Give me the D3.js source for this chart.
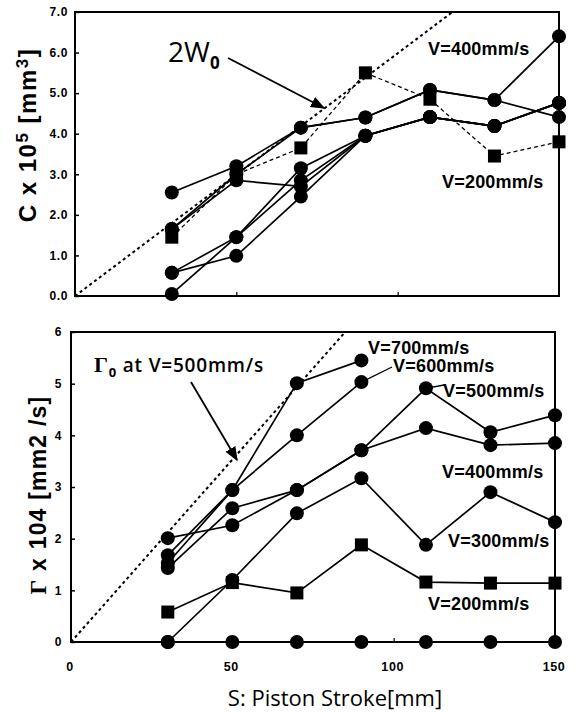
<!DOCTYPE html>
<html>
<head>
<meta charset="utf-8">
<script src="https://cdn.jsdelivr.net/npm/d3@7/dist/d3.min.js"></script>
<style>
  html, body { margin: 0; padding: 0; background: #fff; }
  svg { display: block; }
  .tick-lbl { font-family: "Liberation Sans", Arial, sans-serif; font-weight: bold; font-size: 12px; letter-spacing: 0.6px; }
  .vlbl { font-family: "Liberation Sans", Arial, sans-serif; font-weight: bold; font-size: 18px; letter-spacing: 0.2px; }
</style>
</head>
<body>
<svg id="chart" width="580" height="712"></svg>
<script>
// Piston stroke positions (mm)
const stroke = [30, 50, 70, 90, 110, 130, 150];

// Upper panel: C x 10^5 [mm^3]
const cV200 = [1.45, 3.0, 3.65, 5.5, 4.85, 3.45, 3.8];     // squares
const cV400 = [1.65, 3.0, 4.15, 4.4, 5.08, 4.83, 6.4];
const cRunB = [2.55, 3.2, 4.15, 4.4, 5.08, 4.83, 4.41];
const cRunC = [1.65, 2.85, 2.7, 3.95, 4.41, 4.19, 4.76];
const cRunD = [0.57, 1.45, 3.15, 3.95, 4.41, 4.19, 4.76];
const cRunE = [0.57, 0.99, 2.45, 3.95, 4.41, 4.19, 4.76];
const cRunF = [0.05, 1.45, 2.85, 3.95, 4.41, 4.19, 4.76];
const cTicks = ["0.0", "1.0", "2.0", "3.0", "4.0", "5.0", "6.0", "7.0"];
// 2W0 reference line (S, C)
const w0Line = [[0, 0], [117, 7]];

// Lower panel: Gamma x 10^4 [mm^2/s]
const gV700 = [1.68, 2.94, 5.01, 5.45];   // S = 30..90
const gV600 = [1.53, 2.94, 4.0, 5.03];    // S = 30..90
const gV500 = [1.43, 2.59, 2.94, 3.71, 4.91, 4.06, 4.39];
const gV400 = [2.01, 2.26, 2.94, 3.71, 4.14, 3.81, 3.85];
const gV300 = [0, 1.2, 2.49, 3.17, 1.88, 2.9, 2.32];
const gV200 = [0.58, 1.15, 0.95, 1.88, 1.16, 1.14, 1.14];  // squares
const gBase = [0, 0, 0, 0, 0, 0, 0];
const gTicks = ["0", "1", "2", "3", "4", "5", "6"];
const xTicks = [0, 50, 100, 150];
// Gamma0 reference line at V=500mm/s (S, Gamma)
const g0Line = [[0, 0], [85, 6]];

const svg = d3.select("#chart");
svg.append("rect").attr("width", 580).attr("height", 712).attr("fill", "#fff");

function panel(cfg) {
  const x = d3.scaleLinear().domain([0, 150]).range(cfg.xr);
  const y = d3.scaleLinear().domain([0, cfg.ymax]).range(cfg.yr);
  const g = svg.append("g");

  // frame
  g.append("rect")
    .attr("x", x(0)).attr("y", y(cfg.ymax))
    .attr("width", x(150) - x(0)).attr("height", y(0) - y(cfg.ymax))
    .attr("fill", "none").attr("stroke", "#000").attr("stroke-width", 2);

  // left axis with inward ticks
  const yAxis = d3.axisLeft(y).tickValues(d3.range(0, cfg.ymax + 1))
    .tickSize(-4).tickPadding(cfg.tickPad).tickFormat((d, i) => cfg.yLabels[i]);
  const ya = g.append("g").attr("transform", `translate(${x(0)},0)`).call(yAxis);
  ya.select(".domain").remove();
  ya.attr("font-size", null).attr("font-family", null);
  ya.selectAll("line").attr("stroke-width", 1.5);
  ya.selectAll("text").attr("class", "tick-lbl");

  // bottom ticks
  const xAxis = d3.axisBottom(x).tickValues([50, 100]).tickSize(-4).tickFormat("");
  const xa = g.append("g").attr("transform", `translate(0,${y(0)})`).call(xAxis);
  xa.select(".domain").remove();
  xa.selectAll("line").attr("stroke-width", 1.2);

  // reference line
  g.append("path")
    .attr("d", d3.line().x(d => x(d[0])).y(d => y(d[1]))(cfg.ref))
    .attr("fill", "none").attr("stroke", "#000").attr("stroke-width", 2)
    .attr("stroke-dasharray", "3,3");

  const line = d3.line().x(d => x(d[0])).y(d => y(d[1]));
  cfg.series.forEach(s => {
    const pts = s.values.map((v, i) => [stroke[i], v]);
    g.append("path").attr("d", line(pts))
      .attr("fill", "none").attr("stroke", "#000")
      .attr("stroke-width", s.dash ? 1.3 : 1.7)
      .attr("stroke-dasharray", s.dash || null);
  });
  cfg.series.forEach(s => {
    const pts = s.values.map((v, i) => [stroke[i], v]);
    if (s.square) {
      g.selectAll(null).data(pts).enter().append("rect")
        .attr("x", d => x(d[0]) - 6.5).attr("y", d => y(d[1]) - 6.5)
        .attr("width", 13).attr("height", 13).attr("fill", "#000");
    } else {
      g.selectAll(null).data(pts).enter().append("circle")
        .attr("cx", d => x(d[0])).attr("cy", d => y(d[1])).attr("r", 7)
        .attr("fill", "#000");
    }
  });
  return { x, y, g };
}

// arrow marker
svg.append("defs").append("marker")
  .attr("id", "arrow").attr("viewBox", "0 0 10 10").attr("refX", 9).attr("refY", 5)
  .attr("markerWidth", 8).attr("markerHeight", 8).attr("orient", "auto")
  .append("path").attr("d", "M0,1 L10,5 L0,9 Z").attr("fill", "#000");

const upperPanel = panel({
  xr: [75, 559], yr: [296, 12], ymax: 7, yLabels: cTicks, tickPad: 7, ref: w0Line,
  series: [
    { values: cV200, square: true, dash: "4,3" },
    { values: cV400 }, { values: cRunB }, { values: cRunC },
    { values: cRunD }, { values: cRunE }, { values: cRunF }
  ]
});

const lowerPanel = panel({
  xr: [71, 555], yr: [642, 332], ymax: 6, yLabels: gTicks, tickPad: 9, ref: g0Line,
  series: [
    { values: gV200, square: true },
    { values: gV700 }, { values: gV600 }, { values: gV500 },
    { values: gV400 }, { values: gV300 }, { values: gBase }
  ]
});

// x tick labels under lower panel
svg.selectAll(null).data(xTicks).enter().append("text")
  .attr("class", "tick-lbl").style("font-size", "12.5px")
  .attr("x", d => lowerPanel.x(d) - 1).attr("y", 671).attr("text-anchor", "middle")
  .text(d => d);

// axis titles
svg.append("text")
  .attr("transform", "translate(36,135) rotate(-90)")
  .attr("text-anchor", "middle")
  .attr("font-family", "'Liberation Sans', Arial, sans-serif").attr("font-weight", "bold")
  .attr("font-size", 24).attr("letter-spacing", 1.5)
  .call(t => {
    t.append("tspan").text("C x 10");
    t.append("tspan").attr("dy", -8).attr("font-size", 17).text("5");
    t.append("tspan").attr("dy", 8).text(" [mm");
    t.append("tspan").attr("dy", -8).attr("font-size", 17).text("3");
    t.append("tspan").attr("dy", 8).text("]");
  });

svg.append("text")
  .attr("transform", "translate(46,495) rotate(-90)")
  .attr("text-anchor", "middle")
  .attr("font-family", "'Liberation Sans', Arial, sans-serif").attr("font-weight", "bold")
  .attr("font-size", 23).attr("letter-spacing", 1.2)
  .call(t => {
    t.append("tspan").attr("font-family", "'Liberation Serif', serif").text("Γ");
    t.append("tspan").text(" x 104 [mm2 /s]");
  });

svg.append("text")
  .attr("x", 335).attr("y", 706).attr("text-anchor", "middle")
  .attr("font-family", "'Open Sans', sans-serif").attr("font-size", 22)
  .text("S: Piston Stroke[mm]");

// annotations, upper panel
svg.append("text").attr("x", 168).attr("y", 62)
  .attr("font-family", "'Open Sans', sans-serif").attr("font-size", 28)
  .call(t => {
    t.append("tspan").text("2W");
    t.append("tspan").attr("dy", 7).attr("font-size", 17).attr("font-weight", "bold").text("0");
  });
svg.append("line").attr("x1", 228).attr("y1", 58).attr("x2", 324).attr("y2", 108)
  .attr("stroke", "#000").attr("stroke-width", 1.8).attr("marker-end", "url(#arrow)");

svg.append("text").attr("class", "vlbl").attr("x", 428).attr("y", 55).text("V=400mm/s");
svg.append("text").attr("class", "vlbl").attr("x", 442).attr("y", 188).text("V=200mm/s");

// annotations, lower panel
svg.append("text").attr("x", 94).attr("y", 372)
  .attr("font-family", "'Open Sans', sans-serif").attr("font-size", 19)
  .attr("font-weight", 600).attr("letter-spacing", 0.8)
  .call(t => {
    t.append("tspan").attr("font-family", "'Liberation Serif', serif").attr("font-weight", "bold")
      .attr("font-size", 22).text("Γ");
    t.append("tspan").attr("dy", 5).attr("font-size", 13).attr("font-weight", "bold").text("0");
    t.append("tspan").attr("dy", -5).text(" at V=500mm/s");
  });
svg.append("line").attr("x1", 191).attr("y1", 382).attr("x2", 237).attr("y2", 460)
  .attr("stroke", "#000").attr("stroke-width", 1.8).attr("marker-end", "url(#arrow)");

svg.append("text").attr("class", "vlbl").attr("x", 368).attr("y", 354).text("V=700mm/s");
svg.append("text").attr("class", "vlbl").attr("x", 393).attr("y", 372).text("V=600mm/s");
svg.append("text").attr("class", "vlbl").attr("x", 443).attr("y", 397).text("V=500mm/s");
svg.append("text").attr("class", "vlbl").attr("x", 442).attr("y", 478).text("V=400mm/s");
svg.append("text").attr("class", "vlbl").attr("x", 448).attr("y", 547).text("V=300mm/s");
svg.append("text").attr("class", "vlbl").attr("x", 428).attr("y", 610).text("V=200mm/s");

// leader lines from points to labels
svg.append("line").attr("x1", lowerPanel.x(90)).attr("y1", lowerPanel.y(5.03)).attr("x2", 392).attr("y2", 367)
  .attr("stroke", "#000").attr("stroke-width", 1.3);
svg.append("line").attr("x1", lowerPanel.x(110)).attr("y1", lowerPanel.y(4.91)).attr("x2", 444).attr("y2", 385)
  .attr("stroke", "#000").attr("stroke-width", 1.3);
</script>
</body>
</html>
